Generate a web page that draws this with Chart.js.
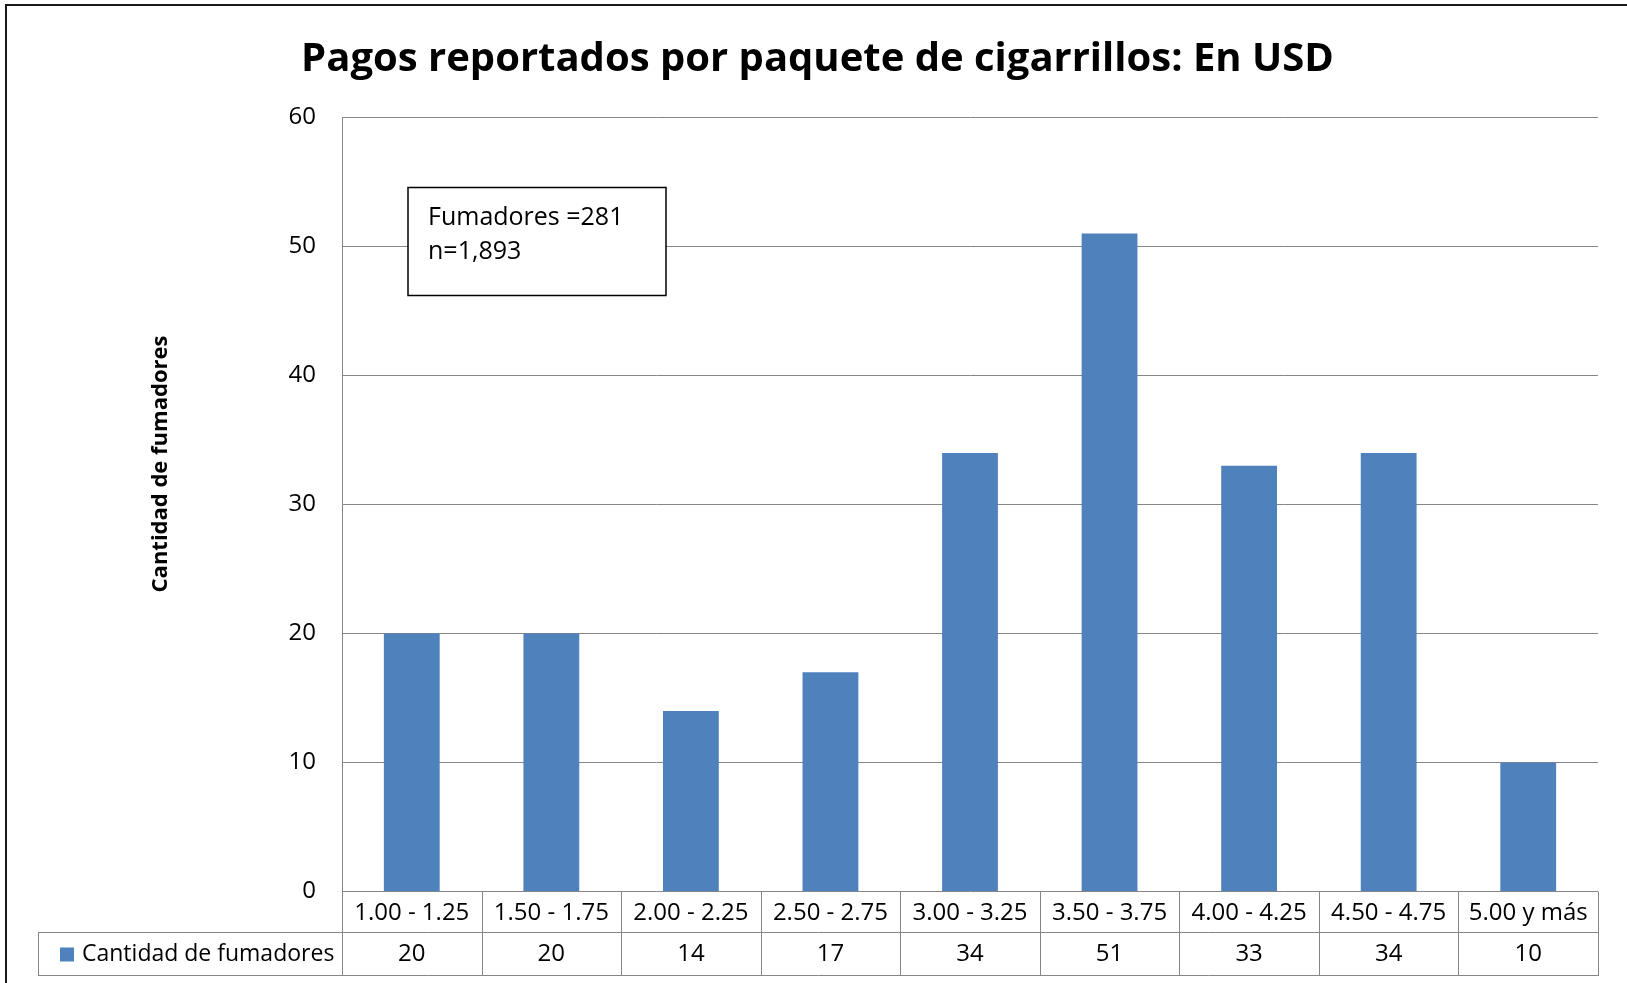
<!DOCTYPE html>
<html>
<head>
<meta charset="utf-8">
<script src="https://cdn.jsdelivr.net/npm/chart.js@4"></script>
<style>
  html, body { margin: 0; padding: 0; background: #fff; }
  canvas { display: block; }
</style>
</head>
<body>
<canvas id="c" width="1627" height="983"></canvas>
<script>
// Price ranges per pack (USD) and number of smokers in each range
const categories = ['1.00 - 1.25', '1.50 - 1.75', '2.00 - 2.25', '2.50 - 2.75', '3.00 - 3.25',
                    '3.50 - 3.75', '4.00 - 4.25', '4.50 - 4.75', '5.00 y más'];
const smokers = [20, 20, 14, 17, 34, 51, 33, 34, 10];
const seriesName = 'Cantidad de fumadores';
const chartTitle = 'Pagos reportados por paquete de cigarrillos: En USD';
const axisTitle = 'Cantidad de fumadores';
const noteLines = ['Fumadores =281', 'n=1,893'];
const yMin = 0, yMax = 60, yStep = 10;

const FONT = "'Open Sans', 'Liberation Sans', sans-serif";
const BAR = '#4F81BD';
const GRID = '#868686';
const TXT = 24;

// Outer frame around the whole figure
const frame = {
  id: 'frame',
  afterDraw(chart) {
    const ctx = chart.ctx;
    ctx.save();
    ctx.strokeStyle = '#1a1a1a';
    ctx.lineWidth = 2;
    ctx.strokeRect(6, 5, 3000, 3000);
    ctx.restore();
  }
};

// Rotated title of the value axis
const yTitle = {
  id: 'yTitle',
  afterDraw(chart) {
    const ctx = chart.ctx;
    ctx.save();
    ctx.translate(161, 464);
    ctx.rotate(-Math.PI / 2);
    ctx.font = `bold 22px ${FONT}`;
    ctx.fillStyle = '#000';
    ctx.textAlign = 'center';
    ctx.textBaseline = 'middle';
    ctx.fillText(axisTitle, 0, 0);
    ctx.restore();
  }
};

// Data table below the plot: category row comes from the x ticks, value row and legend key drawn here
const dataTable = {
  id: 'dataTable',
  afterDraw(chart) {
    const { ctx, chartArea: a, scales: { x } } = chart;
    const top = a.bottom, mid = top + 40.5, bot = mid + 43;
    const legendLeft = 38;
    const n = chart.data.labels.length;
    const edges = [];
    for (let i = 0; i <= n; i++) {
      edges.push(i === 0 ? a.left : i === n ? a.right
        : (x.getPixelForValue(i - 1) + x.getPixelForValue(i)) / 2);
    }
    ctx.save();
    ctx.strokeStyle = GRID;
    ctx.lineWidth = 1;
    ctx.beginPath();
    edges.forEach(e => {
      const px = Math.round(e) + 0.5;
      ctx.moveTo(px, top); ctx.lineTo(px, bot);
    });
    ctx.moveTo(legendLeft + 0.5, mid); ctx.lineTo(legendLeft + 0.5, bot);
    [mid, bot].forEach(y => {
      const py = Math.round(y) + 0.5;
      ctx.moveTo(legendLeft, py); ctx.lineTo(Math.round(a.right) + 1, py);
    });
    ctx.stroke();

    const ds = chart.data.datasets[0];
    const cy = (mid + bot) / 2 + 1;
    ctx.fillStyle = ds.backgroundColor;
    ctx.fillRect(60, cy - 7, 14, 14);
    ctx.fillStyle = '#000';
    ctx.font = `23px ${FONT}`;
    ctx.textBaseline = 'middle';
    ctx.textAlign = 'left';
    ctx.fillText(ds.label, 82, cy);
    ctx.font = `${TXT}px ${FONT}`;
    ctx.textAlign = 'center';
    ds.data.forEach((v, i) => ctx.fillText(String(v), x.getPixelForValue(i), cy));
    ctx.restore();
  }
};

// Text box with sample sizes
const note = {
  id: 'note',
  afterDraw(chart) {
    const { ctx, chartArea: a } = chart;
    const left = a.left + 66, top = a.top + 70, w = 258, h = 108;
    ctx.save();
    ctx.fillStyle = '#fff';
    ctx.fillRect(left, top, w, h);
    ctx.strokeStyle = '#000';
    ctx.lineWidth = 1.5;
    ctx.strokeRect(left, top, w, h);
    ctx.fillStyle = '#000';
    ctx.font = `25px ${FONT}`;
    ctx.textAlign = 'left';
    ctx.textBaseline = 'middle';
    noteLines.forEach((t, i) => ctx.fillText(t, left + 20, top + 30 + i * 34));
    ctx.restore();
  }
};

function draw() {
  new Chart(document.getElementById('c'), {
    type: 'bar',
    data: {
      labels: categories,
      datasets: [{
        label: seriesName,
        data: smokers,
        backgroundColor: BAR,
        borderWidth: 0,
        barPercentage: 0.4,
        categoryPercentage: 1.0
      }]
    },
    options: {
      responsive: false,
      animation: false,
      devicePixelRatio: 1,
      layout: { padding: { left: 37, right: 29, top: 0, bottom: 0 } },
      plugins: {
        legend: { display: false },
        tooltip: { enabled: false },
        title: {
          display: true,
          text: chartTitle,
          color: '#000',
          font: { family: FONT, size: 40, weight: 'bold' },
          padding: { top: 36, bottom: 33.5 }
        }
      },
      scales: {
        x: {
          type: 'category',
          offset: true,
          grid: { display: false, drawTicks: false },
          border: { display: false },
          ticks: {
            color: '#000',
            font: { family: FONT, size: TXT },
            padding: 7.5,
            maxRotation: 0,
            autoSkip: false
          },
          afterFit(scale) { scale.height = 91.5; }
        },
        y: {
          min: yMin,
          max: yMax,
          grid: { color: GRID, lineWidth: 1, drawTicks: false },
          border: { display: true, color: GRID, width: 1 },
          ticks: {
            stepSize: yStep,
            color: '#000',
            font: { family: FONT, size: TXT },
            padding: 26
          },
          afterFit(scale) { scale.width = 305; }
        }
      }
    },
    plugins: [yTitle, dataTable, note, frame]
  });
}

if (document.fonts && document.fonts.ready) {
  document.fonts.load(`24px ${FONT}`).then(() => document.fonts.load(`bold 40px ${FONT}`)).then(draw, draw);
} else {
  draw();
}
</script>
</body>
</html>
